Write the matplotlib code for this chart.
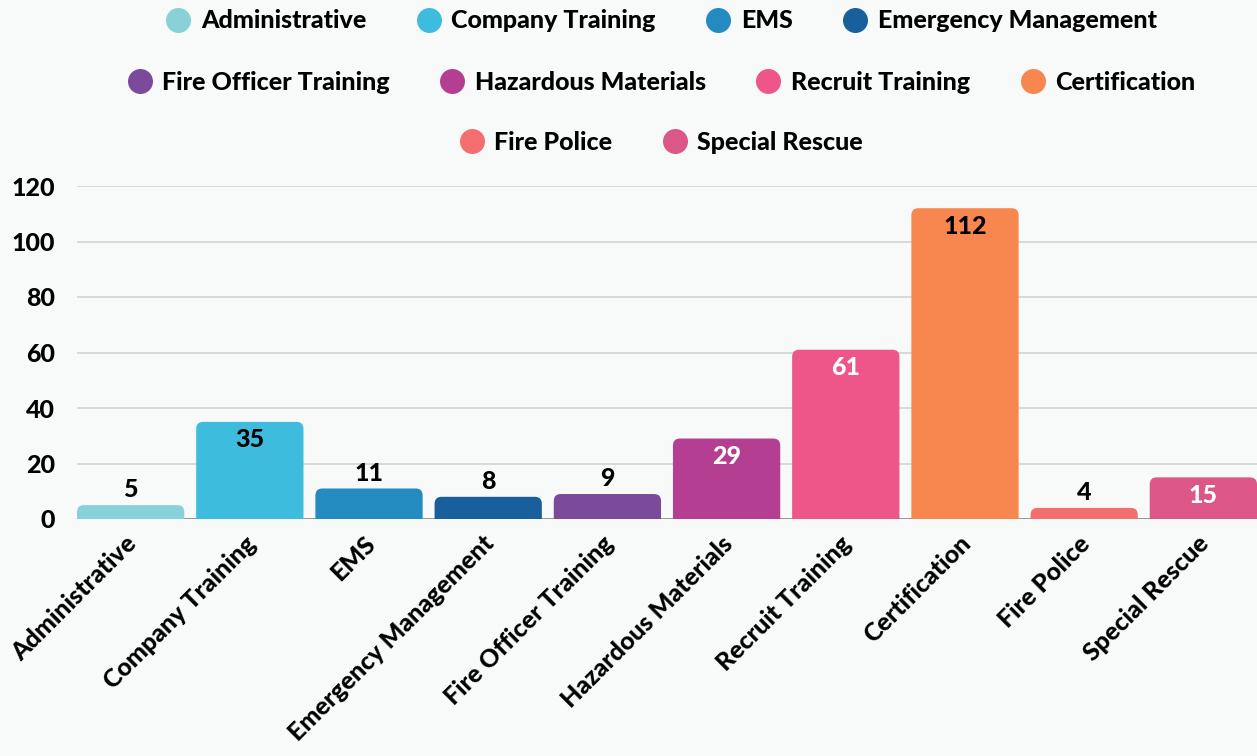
import matplotlib
matplotlib.use("Agg")
import matplotlib.pyplot as plt
import matplotlib.transforms as mtransforms
from matplotlib.lines import Line2D
from matplotlib.patches import FancyBboxPatch

plt.rcParams["font.family"] = ["Lato", "DejaVu Sans"]

categories = [
    "Administrative", "Company Training", "EMS", "Emergency Management",
    "Fire Officer Training", "Hazardous Materials", "Recruit Training",
    "Certification", "Fire Police", "Special Rescue",
]
values = [5, 35, 11, 8, 9, 29, 61, 112, 4, 15]
colors = [
    "#88d1d9", "#3dbcde", "#238bbf", "#17609c", "#7b4a9b",
    "#b43e92", "#ee5588", "#f7874f", "#f36f6f", "#dc5687",
]
label_colors = ["black", "black", "black", "black", "black",
                "white", "white", "black", "black", "white"]
yticks = [0, 20, 40, 60, 80, 100, 120]
legend_rows = [[0, 1, 2, 3], [4, 5, 6, 7], [8, 9]]

bg = "#f8f9f9"
fs = 18
fig = plt.figure(figsize=(12.57, 7.56), dpi=100, facecolor=bg)
ax = fig.add_axes([77 / 1257, 1 - 519 / 756, 1 - 77 / 1257, (519 - 186) / 756])
ax.set_facecolor(bg)

width = 0.9
ax.set_xlim(-0.45, len(values) - 0.55)
ax.set_ylim(0, 120)

# rounded bars
px_x = 1180 / 9.9
px_y = 333 / 120
r = 7 / px_x
for i, (v, c) in enumerate(zip(values, colors)):
    box = FancyBboxPatch(
        (i - width / 2, -4), width, v + 4,
        boxstyle=f"round,pad=0,rounding_size={r}",
        mutation_aspect=px_x / px_y,
        facecolor=c, edgecolor="none", zorder=3,
    )
    ax.add_patch(box)
    if v >= 15:
        ax.text(i, v - 6.5, str(v), ha="center", va="center", fontsize=fs,
                fontweight="black", color=label_colors[i], zorder=4)
    else:
        ax.text(i, v + 5.5, str(v), ha="center", va="center", fontsize=fs,
                fontweight="black", color="black", zorder=4)

ax.set_yticks(yticks)
ax.set_yticklabels([str(t) for t in yticks], fontsize=fs, fontweight="black")
ax.yaxis.grid(True, color="#d3d3d3", linewidth=1.2, zorder=0)
ax.axhline(0, color="#8a8a8a", linewidth=1.2, zorder=2)
ax.tick_params(axis="y", length=0, pad=16)
ax.tick_params(axis="x", length=0, pad=2)
ax.set_xticks(range(len(categories)))
ax.set_xticklabels(categories, rotation=45, ha="right", rotation_mode="anchor",
                   fontsize=fs, fontweight="black")
shift = mtransforms.ScaledTranslation(-6 / 100, -10 / 100, fig.dpi_scale_trans)
for lbl in ax.get_xticklabels():
    lbl.set_transform(lbl.get_transform() + shift)
for s in ax.spines.values():
    s.set_visible(False)

# legend, one centered row at a time
row_y = [1 - 21 / 756, 1 - 82 / 756, 1 - 142 / 756]
for row, y in zip(legend_rows, row_y):
    handles = [Line2D([], [], marker="o", linestyle="none", markersize=18,
                      markerfacecolor=colors[i], markeredgecolor="none")
               for i in row]
    leg = fig.legend(handles, [categories[i] for i in row], loc="center",
                     bbox_to_anchor=(660 / 1257, y), ncol=len(row), frameon=False,
                     prop={"size": fs, "weight": "black"}, handletextpad=0.3,
                     columnspacing=1.9, handlelength=1.2)

fig.savefig("out.png", dpi=100, facecolor=bg)
